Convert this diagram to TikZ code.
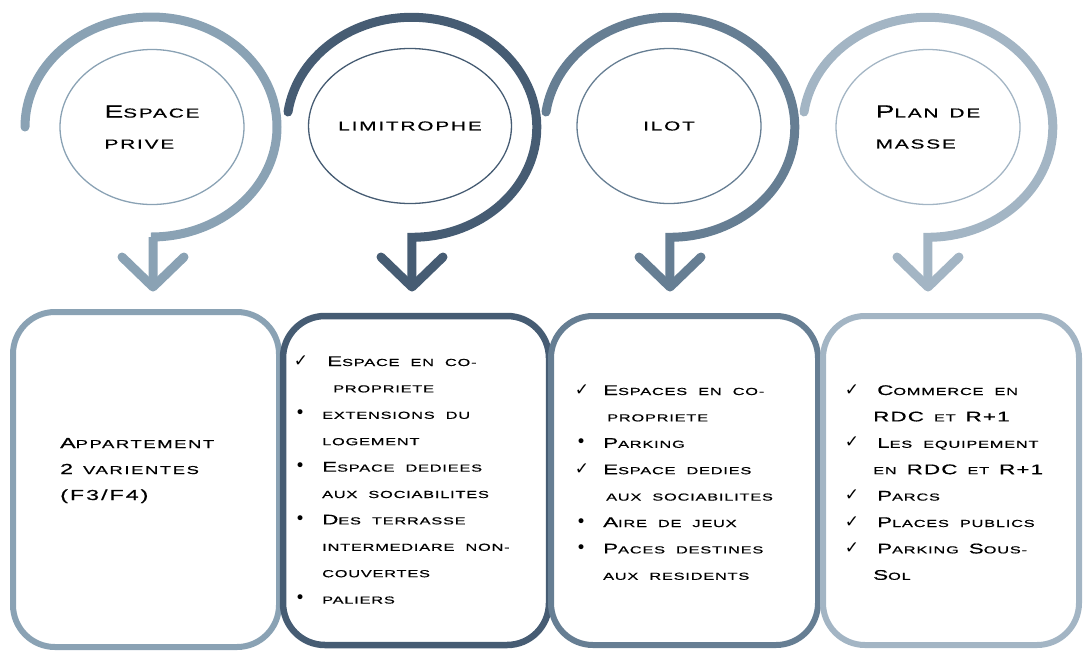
\documentclass[tikz,border=0pt]{standalone}
\usepackage{fontspec}
\usetikzlibrary{shapes.geometric}
\newfontfamily\eur[FakeStretch=1.6,LetterSpace=8,FakeBold=0.6]{Liberation Sans}
\newfontfamily\eurtop[FakeStretch=1.6,LetterSpace=14,FakeBold=0.6]{Liberation Sans}
\newfontfamily\symf{DejaVu Sans}
\definecolor{cA}{HTML}{8AA2B4}
\definecolor{cB}{HTML}{465C73}
\definecolor{cC}{HTML}{667E93}
\definecolor{cD}{HTML}{A3B5C4}
\newcommand\smsz{10}
\newskip\wsp
\wsp=11pt plus 2pt minus 1pt
\newcommand\sm[1]{{\fontsize{\smsz}{\smsz}\selectfont\spaceskip=\wsp\xspaceskip=\wsp\MakeUppercase{#1}}}
\newcommand\ck{\leavevmode\llap{{\symf\fontsize{17}{17}\selectfont ✓}\hspace{14pt}}}
\newcommand\bu{\leavevmode\llap{{\symf\fontsize{17}{17}\selectfont •}\hspace{17pt}}}
\tikzset{
  arcline/.style={line width=9pt, line join=miter, line cap=round},
  chev/.style={line width=9pt, line cap=round, line join=round},
  oval/.style={ellipse, draw, line width=1.3pt, minimum width=184pt, minimum height=155pt,
    inner sep=0pt, align=left, font={\eurtop\fontsize{17.5}{31}\selectfont\renewcommand\smsz{13}}},
  card/.style={draw, rounded corners=42pt, line width=6pt, inner sep=0pt},
  listtxt/.style={anchor=base west, inner sep=0pt, text width=240pt, align=left,
    font={\eur\fontsize{14}{26.4}\selectfont\renewcommand\smsz{10.2}}},
  bigtxt/.style={anchor=base west, inner sep=0pt, text width=200pt, align=left,
    font={\eurtop\fontsize{14.5}{26}\selectfont\renewcommand\smsz{11.5}}},
}
\newcommand\gap{\hspace{10pt}}
\begin{document}
\begin{tikzpicture}[x=1pt,y=1pt]
\useasboundingbox (0,0) rectangle (1083,-651);
% spiral arrows (drawn right to left so each start tucks under its left neighbour)
\foreach \i/\cx/\col in {4/928/cD, 3/670/cC, 2/412/cB} {
  \coordinate (tip\i) at (\cx,-287);
  \draw[arcline, draw=\col] (\cx-124,-112) arc[start angle=172, end angle=-90, x radius=125pt, y radius=110pt] -- (\cx,-285);
  \draw[chev, draw=\col] (\cx-31,-257) -- (tip\i) -- (\cx+31,-257);
}
\coordinate (tip1) at (153,-287);
\draw[arcline, draw=cA] (25,-127) arc[start angle=180, end angle=-90, x radius=126pt, y radius=110pt] -- (153,-237) -- (153,-285);
\draw[chev, draw=cA] (122,-257) -- (tip1) -- (184,-257);
% inner ellipses with labels
\node[oval, draw=cA] (e1) at (152,-127) {E\sm{space}\\\sm{prive}};
\node[oval, draw=cB] (e2) at (410,-126) {\sm{limitrophe}};
\node[oval, draw=cC] (e3) at (669,-126) {\sm{ilot}};
\node[oval, draw=cD] (e4) at (928,-127) {P\sm{lan de}\\\sm{masse}};
% boxes
\node[card, draw=cA, minimum width=266pt, minimum height=335pt] (b1) at (146,-479.5) {};
\node[card, draw=cB, line width=6.5pt, minimum width=266pt, minimum height=329pt] (b2) at (416,-480.5) {};
\node[card, draw=cC, minimum width=267pt, minimum height=329pt] (b3) at (684.5,-480.5) {};
\node[card, draw=cD, minimum width=256pt, minimum height=329pt] (b4) at (951,-480.5) {};
% box texts
\node[bigtxt] (t1) at (60,-448) {A\sm{ppartement}\\2\gap\sm{varientes}\\(F3/F4)};
\node[listtxt] (t2) at (322,-366) {\ck\hspace{5pt}E\sm{space en co-}\\
\hspace*{11pt}\sm{propriete}\\
\bu\sm{extensions du}\\
\sm{logement}\\
\bu E\sm{space dediees}\\
\sm{aux sociabilites}\\
\bu D\sm{es terrasse}\\
\sm{intermediare non-}\\
\sm{couvertes}\\
\bu\sm{paliers}};
\node[listtxt] (t3) at (603,-395) {\ck E\sm{spaces en co-}\\
\hspace*{4pt}\sm{propriete}\\
\bu P\sm{arking}\\
\ck E\sm{space dedies}\\
\hspace*{3pt}\sm{aux sociabilites}\\
\bu A\sm{ire de jeux}\\
\bu P\sm{aces destines}\\
\sm{aux residents}};
\node[listtxt] (t4) at (873,-395) {\ck\hspace{4pt}C\sm{ommerce en}\\
RDC\gap\sm{et}\gap R+1\\
\ck\hspace{4pt}L\sm{es equipement}\\
\sm{en}\gap RDC\gap\sm{et}\gap R+1\\
\ck\hspace{4pt}P\sm{arcs}\\
\ck\hspace{4pt}P\sm{laces publics}\\
\ck\hspace{4pt}P\sm{arking}\gap S\sm{ous-}\\
S\sm{ol}};
\end{tikzpicture}
\end{document}
